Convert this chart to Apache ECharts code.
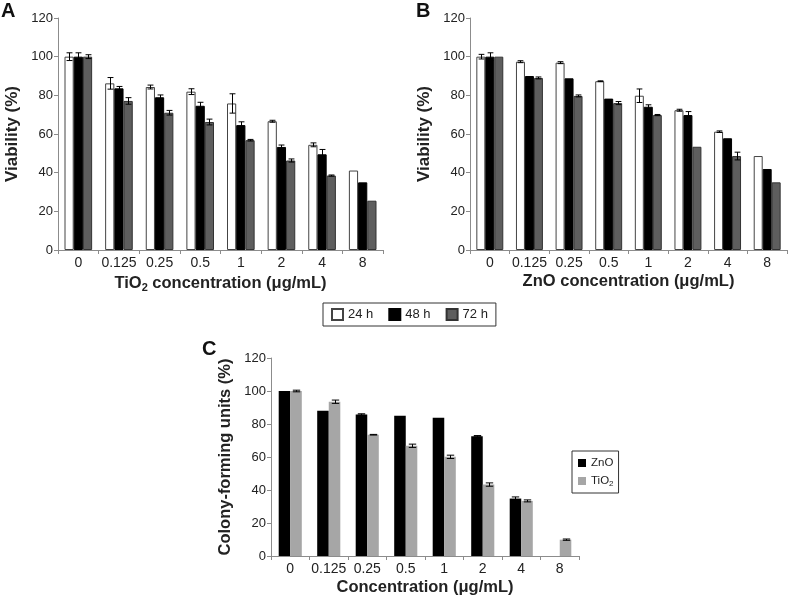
<!DOCTYPE html>
<html><head><meta charset="utf-8">
<script src="https://cdn.jsdelivr.net/npm/echarts@6/dist/echarts.min.js"></script>
<style>html,body{margin:0;padding:0;background:#fff}#c{width:793px;height:597px}</style>
</head><body><div id="c"></div>
<script>
const categories = ['0','0.125','0.25','0.5','1','2','4','8'];
const yTicks = [0,20,40,60,80,100,120];

// Panel A: TiO2 viability
const tio2_24h = [100, 86.2, 84.3, 81.9, 75.8, 66.6, 54.4, 41.1];
const tio2_48h = [100, 83.6, 79.0, 74.6, 64.6, 53.3, 49.5, 35.0];
const tio2_72h = [100, 77.1, 71.0, 66.2, 56.8, 46.3, 38.5, 25.5];
const tio2_24h_err = [2.0, 3.0, 1.0, 1.5, 5.0, 0.5, 1.0, 0];
const tio2_48h_err = [2.0, 1.0, 1.2, 1.8, 1.7, 1.0, 2.5, 0];
const tio2_72h_err = [1.0, 1.7, 1.2, 1.5, 0.4, 0.8, 0.3, 0];

// Panel B: ZnO viability
const zno_24h = [100, 97.4, 96.9, 87.3, 79.8, 72.3, 61.2, 48.6];
const zno_48h = [100, 90.0, 88.8, 78.3, 74.1, 69.8, 57.8, 41.9];
const zno_72h = [100, 89.0, 79.7, 76.0, 69.8, 53.4, 48.6, 35.0];
const zno_24h_err = [1.2, 0.5, 0.5, 0.2, 3.5, 0.5, 0.4, 0];
const zno_48h_err = [2.0, 0, 0, 0, 1.0, 1.8, 0, 0];
const zno_72h_err = [0, 0.5, 0.5, 0.8, 0.3, 0, 2.0, 0];

// Panel C: colony-forming units
const cfu_zno  = [100, 88.0, 85.8, 85.0, 83.8, 72.6, 34.8, null];
const cfu_tio2 = [100, 93.5, 73.5, 66.8, 60.1, 43.3, 33.4, 9.9];
const cfu_zno_err  = [0, 0, 0.4, 0, 0, 0.4, 1.0, 0];
const cfu_tio2_err = [0.5, 1.0, 0.2, 1.0, 1.0, 1.0, 0.6, 0.4];

const FONT = '"Liberation Sans", Arial, sans-serif';
const AXIS_GRAY = '#8c8c8c';

function errRender(nSeries, idx, gapRatio) {
  return function (params, api) {
    const cat = api.value(0), val = api.value(1), err = api.value(2);
    if (val == null || isNaN(val) || !err) return null;
    const catW = api.size([1, 0])[0];
    const groupW = catW * (1 - gapRatio);
    const bw = groupW / nSeries;
    const c = api.coord([cat, val]);
    const x = Math.round(c[0] - groupW / 2 + bw * (idx + 0.5)) + 0.5;
    const top = api.coord([cat, val + err])[1];
    const bot = api.coord([cat, val - err])[1];
    const half = bw * 0.32;
    const st = { stroke: '#000', lineWidth: 1 };
    return { type: 'group', children: [
      { type: 'line', shape: { x1: x, y1: top, x2: x, y2: bot }, style: st },
      { type: 'line', shape: { x1: x - half, y1: top, x2: x + half, y2: top }, style: st },
      { type: 'line', shape: { x1: x - half, y1: bot, x2: x + half, y2: bot }, style: st }
    ]};
  };
}

function errData(vals, errs) {
  return vals.map((v, i) => [i, v, errs[i]]);
}

function xAxisDef(gi, name) {
  return {
    type: 'category', gridIndex: gi, data: categories,
    axisLine: { lineStyle: { color: AXIS_GRAY, width: 1 } },
    axisTick: { show: true, length: 4, interval: 0, lineStyle: { color: AXIS_GRAY } },
    axisLabel: { color: '#222', fontSize: 14, fontFamily: FONT, margin: 6, interval: 0 },
    name: name, nameLocation: 'middle', nameGap: 23,
    nameTextStyle: { color: '#222', fontSize: 16.5, fontWeight: 'bold', fontFamily: FONT,
      rich: { sub: { fontSize: 11, fontWeight: 'bold', fontFamily: FONT, color: '#222', verticalAlign: 'bottom', padding: [9, 0, 0, 0] } } }
  };
}
function yAxisDef(gi, name, gap, fs) {
  return {
    type: 'value', gridIndex: gi, min: 0, max: 120, interval: 20,
    splitLine: { show: false },
    axisLine: { show: true, lineStyle: { color: AXIS_GRAY, width: 1 } },
    axisTick: { show: true, length: 4, lineStyle: { color: AXIS_GRAY } },
    axisLabel: { color: '#222', fontSize: 13, fontFamily: FONT, margin: 5,
      formatter: v => yTicks.includes(v) ? String(v) : '' },
    name: name, nameLocation: 'middle', nameGap: gap, nameRotate: 90,
    nameTextStyle: { color: '#222', fontSize: fs, fontWeight: 'bold', fontFamily: FONT }
  };
}

const GAP3 = 0.32, GAP2 = 0.40;
const styles = {
  w: { color: '#ffffff', borderColor: '#444', borderWidth: 1 },
  k: { color: '#000000', borderColor: '#000', borderWidth: 1 },
  g: { color: '#5e5e5e', borderColor: '#333', borderWidth: 1 },
  cz: { color: '#000000' },
  ct: { color: '#a6a6a6' }
};

function barS(name, gi, data, st, gap) {
  return { type: 'bar', name: name, xAxisIndex: gi, yAxisIndex: gi, data: data,
    itemStyle: st, barGap: '0%', barCategoryGap: (gap * 100) + '%', z: 2, animation: false };
}
function errS(gi, vals, errs, n, idx, gap) {
  return { type: 'custom', xAxisIndex: gi, yAxisIndex: gi, data: errData(vals, errs),
    renderItem: errRender(n, idx, gap), z: 5, silent: true, animation: false,
    encode: { x: 0, y: 1 } };
}

const chart = echarts.init(document.getElementById('c'), null, { renderer: 'canvas' });
chart.setOption({
  animation: false,
  textStyle: { fontFamily: FONT },
  graphic: [
    { type: 'text', left: 1, top: 1, style: { text: 'A', font: 'bold 20px ' + FONT, fill: '#111' } },
    { type: 'text', left: 416, top: 1, style: { text: 'B', font: 'bold 20px ' + FONT, fill: '#111' } },
    { type: 'text', left: 202, top: 339, style: { text: 'C', font: 'bold 20px ' + FONT, fill: '#111' } }
  ],
  grid: [
    { left: 58, top: 18, width: 325, height: 232 },
    { left: 470, top: 18, width: 317, height: 232 },
    { left: 271, top: 358, width: 308, height: 198 }
  ],
  xAxis: [
    xAxisDef(0, 'TiO{sub|2} concentration (μg/mL)'),
    xAxisDef(1, 'ZnO concentration (μg/mL)'),
    xAxisDef(2, 'Concentration (μg/mL)')
  ],
  yAxis: [
    yAxisDef(0, 'Viability (%)', 37, 17),
    yAxisDef(1, 'Viability (%)', 37, 17),
    yAxisDef(2, 'Colony-forming units (%)', 37, 16.5)
  ],
  legend: [
    { data: ['24 h', '48 h', '72 h'], left: 323, top: 303, orient: 'horizontal', icon: 'rect',
      borderColor: '#333', borderWidth: 1, padding: [5, 8, 5, 8], itemWidth: 11, itemHeight: 11, itemGap: 15,
      textStyle: { fontSize: 13, color: '#222', fontFamily: FONT } },
    { data: ['ZnO', 'TiO2'], left: 572, top: 451, orient: 'vertical', icon: 'rect',
      borderColor: '#333', borderWidth: 1, padding: [6, 5, 5, 6], itemWidth: 8, itemHeight: 8, itemGap: 6, itemStyle: {},
      formatter: n => n === 'TiO2' ? 'TiO{sub|2}' : n,
      textStyle: { fontSize: 11.5, color: '#222', fontFamily: FONT,
        rich: { sub: { fontSize: 8, fontFamily: FONT, color: '#222', verticalAlign: 'bottom', padding: [6, 0, 0, 0] } } } }
  ],
  series: [
    barS('24 h', 0, tio2_24h, styles.w, GAP3),
    barS('48 h', 0, tio2_48h, styles.k, GAP3),
    barS('72 h', 0, tio2_72h, styles.g, GAP3),
    errS(0, tio2_24h, tio2_24h_err, 3, 0, GAP3),
    errS(0, tio2_48h, tio2_48h_err, 3, 1, GAP3),
    errS(0, tio2_72h, tio2_72h_err, 3, 2, GAP3),
    barS('24 h', 1, zno_24h, styles.w, GAP3),
    barS('48 h', 1, zno_48h, styles.k, GAP3),
    barS('72 h', 1, zno_72h, styles.g, GAP3),
    errS(1, zno_24h, zno_24h_err, 3, 0, GAP3),
    errS(1, zno_48h, zno_48h_err, 3, 1, GAP3),
    errS(1, zno_72h, zno_72h_err, 3, 2, GAP3),
    barS('ZnO', 2, cfu_zno, styles.cz, GAP2),
    barS('TiO2', 2, cfu_tio2, styles.ct, GAP2),
    errS(2, cfu_zno, cfu_zno_err, 2, 0, GAP2),
    errS(2, cfu_tio2, cfu_tio2_err, 2, 1, GAP2)
  ]
});
</script></body></html>
